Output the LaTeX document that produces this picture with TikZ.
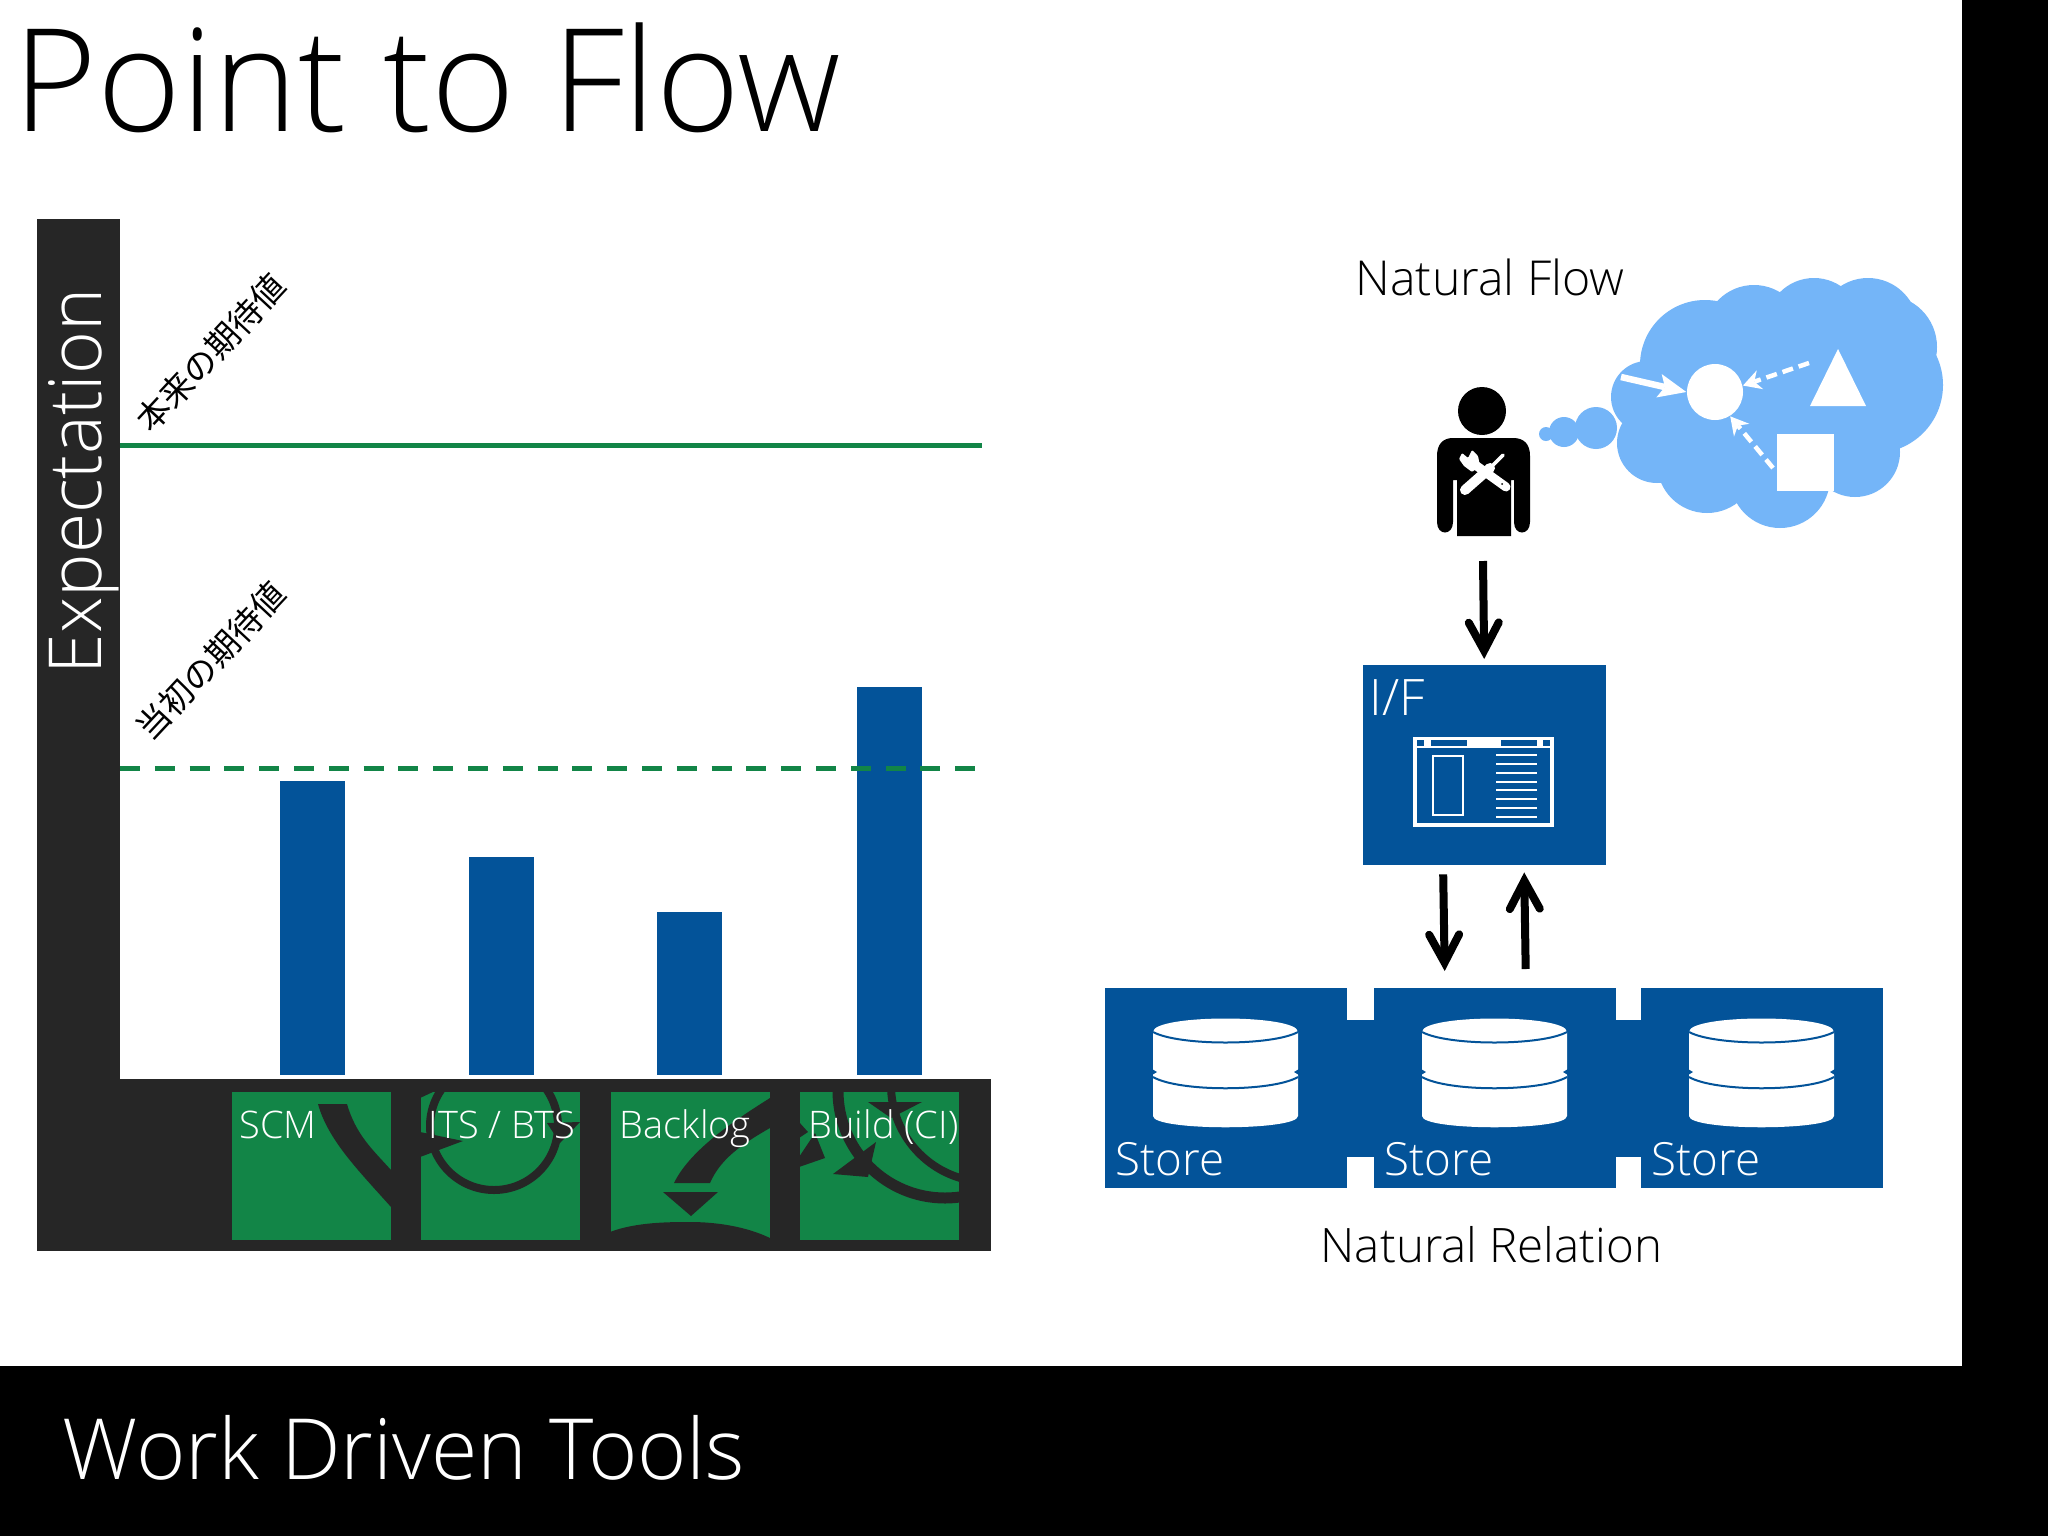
\documentclass[tikz,border=0pt]{standalone}
\usepackage{fontspec}
\setmainfont{Open Sans}[UprightFont=* Light]
\newfontfamily\jpfont{Noto Sans CJK JP}
\usepackage{xcolor}
\usetikzlibrary{arrows.meta}
\definecolor{wdark}{HTML}{262626}
\definecolor{wgreen}{HTML}{128547}
\definecolor{wblue}{HTML}{035399}
\definecolor{wcloud}{HTML}{74B5F8}
\def\pxu{0.01cm}
\tikzset{
 lbl/.style={inner sep=0pt,anchor=base west},
 greenbox/.style={fill=wgreen,minimum width=159*\pxu,minimum height=148*\pxu,inner sep=0pt,anchor=north west},
 bluebox/.style={fill=wblue,inner sep=0pt,anchor=north west},
 bar/.style={fill=wblue},
 flow/.style={line width=8*\pxu,-{Straight Barb[length=28*\pxu,width=30*\pxu,line width=8*\pxu,line cap=round,line join=miter]}},
 thinkdash/.style={white,line width=4.5*\pxu,dash pattern=on 11*\pxu off 6*\pxu,-{Stealth[length=18*\pxu,width=20*\pxu,inset=6*\pxu,line width=0pt]}},
}
\begin{document}
\begin{tikzpicture}[x=0.01cm,y=-0.01cm]
\useasboundingbox (0,0) rectangle (2048,1536);
\fill [white] (0,0) rectangle (2048,1536);
\fill [black] (1962,0) rectangle (2048,1536);
\fill [black] (0,1366) rectangle (2048,1536);
\node [lbl] (title) at (13,131) {\fontsize{40.7}{41}\selectfont Point to Flow};
\node [lbl,white] (footer) at (62,1479) {\fontsize{24}{24}\selectfont Work Driven Tools};

% chart frame
\fill [wdark] (37,219) rectangle (120,1251);
\fill [wdark] (37,1079) rectangle (991,1251);
\node [lbl,white,rotate=90] (yaxis) at (101,675) {\fontsize{20.8}{21}\selectfont Expectation};

\fill [bar] (280,781) rectangle (345,1075);
\fill [bar] (469,857) rectangle (534,1075);
\fill [bar] (657,912) rectangle (722,1075);
\fill [bar] (857,687) rectangle (922,1075);
\draw [wgreen,line width=5*\pxu] (120,445) -- (982,445);
\draw [wgreen,line width=5*\pxu,dash pattern=on 20*\pxu off 14.8*\pxu] (120,768) -- (977,768);
\node [rotate=47,inner sep=0pt] (future) at (211,353) {\jpfont\fontsize{9.5}{10}\selectfont 本来の期待値};
\node [rotate=47,inner sep=0pt] (initial) at (211,661) {\jpfont\fontsize{9.5}{10}\selectfont 当初の期待値};

% tool squares
\node [greenbox] (scm) at (231,1091) {};
\node [greenbox] (its) at (420,1091) {};
\node [greenbox] (backlog) at (610,1091) {};
\node [greenbox] (build) at (799,1091) {};
\begin{scope}
\clip (scm.north west) rectangle (scm.south east);
\fill [wdark] (318,1104) -- (347,1104) .. controls (356,1135) and (373,1150) .. (391,1170) -- (391,1207) .. controls (358,1170) and (328,1140) .. (318,1104) -- cycle;
\end{scope}
\begin{scope}
\clip (its.north west) rectangle (its.south east);
\draw [wdark,line width=8*\pxu] (494,1126) circle (64);
\fill [wdark] (420,1132) -- (463,1141) -- (420,1157) -- cycle;
\fill [wdark] (420,1098) -- (435,1091) -- (420,1091) -- cycle;
\fill [wdark] (580,1122) -- (547,1123) -- (560,1143) -- cycle;
\end{scope}
\begin{scope}
\clip (backlog.north west) rectangle (backlog.south east);
\fill [wdark] (770,1098) -- (770,1128) .. controls (740,1145) and (720,1160) .. (710,1183) -- (674,1183) .. controls (690,1150) and (735,1120) .. (770,1098) -- cycle;
\fill [wdark] (663,1192) -- (718,1192) -- (691,1216) -- cycle;
\fill [wdark] (610,1232) .. controls (636,1222) and (670,1222) .. (690,1222) .. controls (715,1222) and (745,1226) .. (770,1238) -- (770,1240) -- (610,1240) -- cycle;
\end{scope}
\begin{scope}
\clip (build.north west) rectangle (build.south east);
\draw [wdark,line width=11*\pxu] (945,1091) circle (107);
\draw [wdark,line width=8*\pxu] (988,1085) circle (97);
\fill [wdark] (868,1102) -- (922,1102) -- (891,1118) -- cycle;
\fill [wdark] (876,1142) -- (833,1174) -- (868,1177) -- cycle;
\fill [wdark] (799,1167) -- (825,1158) -- (815,1133) -- (799,1157) -- cycle;
\fill [wdark] (799,1122) -- (808,1132) -- (799,1138) -- cycle;
\end{scope}
\node [lbl,white] (scmtext) at (239,1138) {\fontsize{10.8}{11}\selectfont SCM};
\node [lbl,white] (itstext) at (428,1138) {\fontsize{10.8}{11}\selectfont ITS / BTS};
\node [lbl,white] (backlogtext) at (619,1138) {\fontsize{10.8}{11}\selectfont Backlog};
\node [lbl,white] (buildtext) at (808,1138) {\fontsize{10.8}{11}\selectfont Build (CI)};

% thought cloud
\node [lbl] (flowtext) at (1355,295) {\fontsize{13.7}{14}\selectfont Natural Flow};
\foreach \cx/\cy/\cr in {1705/365/65,1754/335/50,1814/326/48,1868/328/50,1885/347/52,1875/385/68,1855/452/45,1780/478/50,1707/463/50,1657/443/40,1647/397/36,1777/400/100,1596/428/21,1564/432/15,1546/434/7}
 \fill [wcloud] (\cx,\cy) circle (\cr);
\node [circle,fill=white,minimum size=56*\pxu,inner sep=0pt] (point) at (1715,392) {};
\fill [white] (1838,349) -- (1866,406) -- (1810,406) -- cycle;
\fill [white] (1777,434) rectangle (1834,491);
\coordinate (tritail) at (1809,363);
\coordinate (sqtail) at (1773,468);
\coordinate (selftail) at (1621,377);
\draw [white,line width=6.5*\pxu,-{Stealth[length=28*\pxu,width=24*\pxu,inset=6*\pxu,line width=0pt]}] (selftail) -- (point.180);
\draw [thinkdash] (tritail) -- (point.13);
\draw [thinkdash] (sqtail) -- (point.-58);

% engineer
\fill [black] (1482,411) circle (24);
\fill [black] (1457,536) -- (1457,480) -- (1453,480) -- (1453,522) .. controls (1453,536) and (1437,536) .. (1437,522) -- (1437,456) .. controls (1437,444) and (1443,438) .. (1453,438) -- (1513,438) .. controls (1524,438) and (1530,444) .. (1530,456) -- (1530,522) .. controls (1530,536) and (1514,536) .. (1514,522) -- (1514,480) -- (1511,480) -- (1511,536) -- cycle;
\draw [white,line width=9*\pxu,line cap=round] (1506,487) -- (1474,464);
\fill [white,rounded corners=1*\pxu] (1462,453) -- (1468,458) -- (1472,450) -- (1478,456) -- (1480,466) -- (1472,472) -- (1464,466) -- (1459,459) -- cycle;
\fill [black] (1502,484) circle (1);
\draw [white,line width=10*\pxu,line cap=round] (1465,490) -- (1490,468);
\draw [white,line width=3.5*\pxu,line cap=round] (1490,468) -- (1503,455);
\coordinate (man) at (1483,561);

% interface
\node [bluebox,minimum width=243*\pxu,minimum height=200*\pxu] (ifbox) at (1362,664) {};
\node [lbl,white] (iftext) at (1369,715) {\fontsize{14.3}{14}\selectfont I/F};
\draw [white,line width=3.4*\pxu] (1415,739) rectangle (1552,825);
\fill [white] (1413,737) rectangle (1554,748);
\foreach \xa/\xb in {1417/1424,1431/1467,1501/1537,1543/1550}
 \fill [wblue] (\xa,740) rectangle (\xb,746);
\draw [white,line width=2.6*\pxu] (1433,756) rectangle (1463,815);
\foreach \ya in {755,764,773,782,790,799,808,817}
 \draw [white,line width=1.8*\pxu] (1496,\ya) -- (1537,\ya);

% stores
\fill [wblue] (1340,1020) rectangle (1380,1157);
\fill [wblue] (1608,1020) rectangle (1648,1157);
\foreach \name/\xa in {storea/1104,storeb/1373,storec/1640}{
 \node [bluebox,minimum width=242*\pxu,minimum height=200*\pxu] (\name) at (\xa,987) {};
 \begin{scope}[shift={(\xa,0)}]
 \fill [white] (49,1032) .. controls (49,1014) and (194,1014) .. (194,1032) -- (194,1116) .. controls (194,1131) and (49,1131) .. (49,1116) -- cycle;
 \draw [wblue,line width=2*\pxu] (49,1032) .. controls (75,1046) and (168,1046) .. (194,1032);
 \draw [wblue,line width=2*\pxu] (49,1077) .. controls (75,1092) and (168,1092) .. (194,1077);
 \fill [wblue] (48,1069) -- (53,1072) -- (48,1075) -- cycle;
 \fill [wblue] (195,1069) -- (190,1072) -- (195,1075) -- cycle;
 \end{scope}
 \node [lbl,white] at (\xa+11,1175) {\fontsize{13}{13}\selectfont Store};
}
\node [lbl] (relationtext) at (1320,1262) {\fontsize{13.5}{14}\selectfont Natural Relation};

\draw [flow] (man) -- ([yshift=5*\pxu]ifbox.north);
\draw [flow] ([xshift=-41*\pxu,yshift=-9*\pxu]ifbox.south) -- ([xshift=-50*\pxu,yshift=16*\pxu]storeb.north);
\draw [flow] ([xshift=31*\pxu,yshift=18*\pxu]storeb.north) -- ([xshift=40*\pxu,yshift=-7*\pxu]ifbox.south);
\end{tikzpicture}
\end{document}
